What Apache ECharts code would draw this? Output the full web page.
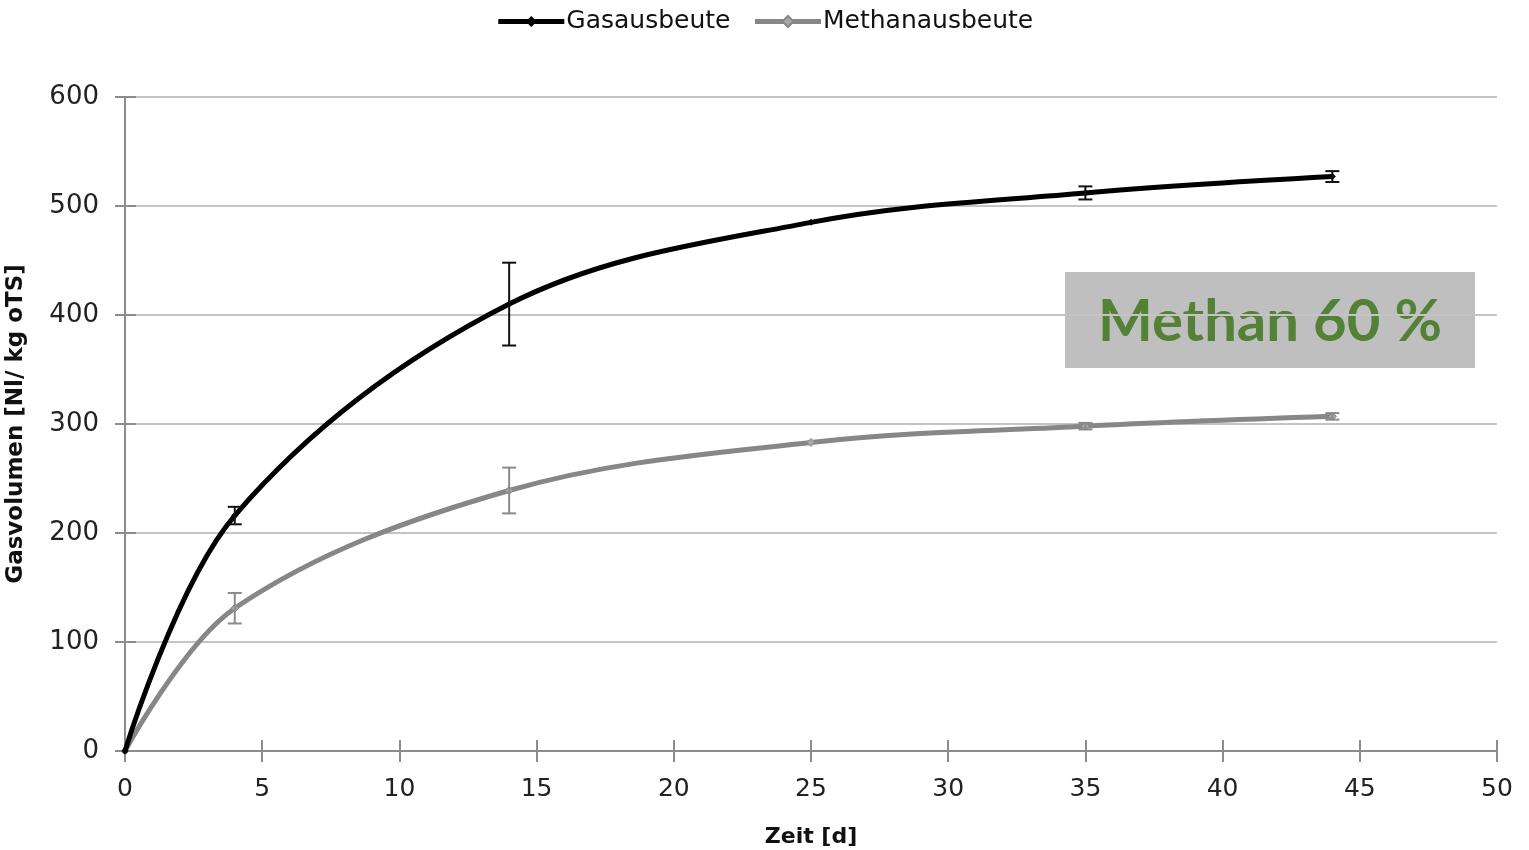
<!DOCTYPE html>
<html>
<head>
<meta charset="utf-8">
<script src="https://cdn.jsdelivr.net/npm/echarts@6/dist/echarts.min.js"></script>
<style>html,body{margin:0;padding:0;background:#fff}#c{width:1529px;height:850px}</style>
</head>
<body>
<div id="c"></div>
<script>
const days = [0, 4, 14, 25, 35, 44];
const gasYield = [0, 216, 410, 485, 512, 527];
const gasErr = [0, 8, 38, 0, 6, 5];
const methYield = [0, 131, 239, 283, 298, 307];
const methErr = [0, 14, 21, 0, 3, 3];
const xTicks = [0, 5, 10, 15, 20, 25, 30, 35, 40, 45, 50];
const yTicks = [0, 100, 200, 300, 400, 500, 600];
const seriesNames = ['Gasausbeute', 'Methanausbeute'];
const annotation = 'Methan 60 %';

const FONT = 'DejaVu Sans';
const chart = echarts.init(document.getElementById('c'));

function pairs(xs, ys) { return xs.map((x, i) => [x, ys[i]]); }
function errData(xs, ys, es) {
  const out = [];
  xs.forEach((x, i) => { if (es[i] > 0) out.push([x, ys[i] - es[i], ys[i] + es[i]]); });
  return out;
}
function errRender(color, cap) {
  return function (params, api) {
    const x = api.value(0), lo = api.value(1), hi = api.value(2);
    const pt = api.coord([x, hi]), pb = api.coord([x, lo]);
    const st = { stroke: color, lineWidth: 2 };
    return {
      type: 'group',
      children: [
        { type: 'line', shape: { x1: pt[0], y1: pt[1], x2: pb[0], y2: pb[1] }, style: st },
        { type: 'line', shape: { x1: pt[0] - cap, y1: pt[1], x2: pt[0] + cap, y2: pt[1] }, style: st },
        { type: 'line', shape: { x1: pb[0] - cap, y1: pb[1], x2: pb[0] + cap, y2: pb[1] }, style: st }
      ]
    };
  };
}

const xMin = xTicks[0], xMax = xTicks[xTicks.length - 1];
const yMin = yTicks[0], yMax = yTicks[yTicks.length - 1];
const xInt = xTicks[1] - xTicks[0], yInt = yTicks[1] - yTicks[0];

const axisLineStyle = { color: '#8c8c8c', width: 2 };

chart.setOption({
  animation: false,
  backgroundColor: '#fff',
  textStyle: { fontFamily: FONT },
  legend: {
    top: 4,
    left: 'center',
    itemWidth: 66,
    itemHeight: 14,
    itemGap: 22,
    textStyle: { fontFamily: FONT, fontSize: 25, color: '#111', padding: [0, 0, 0, -3] },
    data: [
      { name: seriesNames[0], lineStyle: { width: 5, color: '#000' } },
      { name: seriesNames[1], lineStyle: { width: 5, color: '#878787' } }
    ]
  },
  grid: { left: 125, right: 32, top: 97, bottom: 99, outerBoundsMode: 'none', containLabel: false },
  xAxis: [{
    type: 'value', min: xMin, max: xMax, interval: xInt,
    name: 'Zeit [d]', nameLocation: 'middle', nameGap: 75,
    nameTextStyle: { fontFamily: FONT, fontSize: 22, fontWeight: 'bold', color: '#111' },
    axisLine: { lineStyle: axisLineStyle },
    axisTick: { show: true, inside: false, length: 11, lineStyle: axisLineStyle },
    axisLabel: { fontFamily: FONT, fontSize: 25, color: '#222', margin: 26 },
    splitLine: { show: false }
  }, {
    type: 'value', min: xMin, max: xMax, interval: xInt, position: 'bottom',
    axisLine: { show: false },
    axisTick: { show: true, inside: true, length: 11, lineStyle: axisLineStyle },
    axisLabel: { show: false }, splitLine: { show: false }
  }],
  yAxis: [{
    type: 'value', min: yMin, max: yMax, interval: yInt,
    name: 'Gasvolumen [Nl/ kg oTS]', nameLocation: 'middle', nameGap: 97,
    nameTextStyle: { fontFamily: FONT, fontSize: 23, fontWeight: 'bold', color: '#111' },
    axisLine: { show: true, lineStyle: axisLineStyle },
    axisTick: { show: true, inside: false, length: 10, lineStyle: axisLineStyle },
    axisLabel: { fontFamily: FONT, fontSize: 26, color: '#222', margin: 26 },
    splitLine: { show: true, lineStyle: { color: '#c4c4c4', width: 2 } }
  }, {
    type: 'value', min: yMin, max: yMax, interval: yInt, position: 'left',
    axisLine: { show: false },
    axisTick: { show: true, inside: true, length: 11, lineStyle: axisLineStyle },
    axisLabel: { show: false }, splitLine: { show: false }
  }],
  series: [
    {
      name: seriesNames[0], type: 'line', smooth: 0.35,
      data: pairs(days, gasYield),
      symbol: 'diamond', symbolSize: 7, showSymbol: true,
      lineStyle: { color: '#000', width: 5 },
      itemStyle: { color: '#000' }, z: 3
    },
    {
      name: seriesNames[1], type: 'line', smooth: 0.35,
      data: pairs(days, methYield),
      symbol: 'diamond', symbolSize: 8, showSymbol: true,
      lineStyle: { color: '#878787', width: 5 },
      itemStyle: { color: '#a8a8a8', borderColor: '#878787', borderWidth: 1 }, z: 2
    },
    {
      type: 'custom', name: 'gasErr', renderItem: errRender('#111', 7),
      data: errData(days, gasYield, gasErr), encode: { x: 0, y: [1, 2] }, z: 4, silent: true
    },
    {
      type: 'custom', name: 'methErr', renderItem: errRender('#8a8a8a', 7),
      data: errData(days, methYield, methErr), encode: { x: 0, y: [1, 2] }, z: 4, silent: true
    }
  ],
  graphic: [{
    type: 'group', left: 1065, top: 272, z: 10,
    children: [
      { type: 'rect', shape: { x: 0, y: 0, width: 410, height: 96 }, style: { fill: '#bfbfbf' } },
      { type: 'text', x: 205, y: 50, style: { text: annotation, fill: '#538135', font: 'bold 58px Lato', textAlign: 'center', textVerticalAlign: 'middle' } }
    ]
  }]
});
</script>
</body>
</html>
